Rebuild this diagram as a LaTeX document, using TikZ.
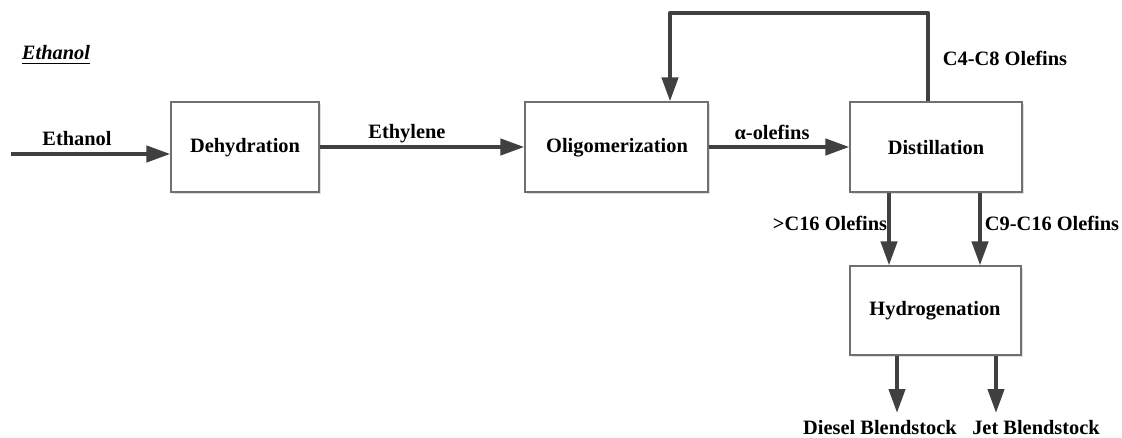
\documentclass[tikz,border=0pt]{standalone}
\usepackage{fontspec}
\setmainfont{Liberation Serif}
\usetikzlibrary{arrows.meta,shadows}
\definecolor{flowgray}{HTML}{404040}
\definecolor{boxgray}{HTML}{707070}
\tikzset{
  unit/.style={draw=boxgray, line width=0.6pt, fill=white, inner sep=0pt,
    minimum height=45pt,
    drop shadow={shadow xshift=1pt, shadow yshift=-1pt, opacity=0.25}},
  flow/.style={draw=flowgray, line width=2.1pt, line join=round,
    -{Triangle[length=12pt, width=8pt]}},
  lbl/.style={inner sep=0pt, font=\fontsize{10.2pt}{12pt}\selectfont\bfseries},
}
\begin{document}
\begin{tikzpicture}[x=0.5pt, y=-0.5pt]
  \useasboundingbox (0,0) rectangle (1122,438);
  \fill[white] (0,0) rectangle (1122,438);

  % process units
  \node[unit, minimum width=74pt] (dehy) at (245,147) {};
  \node[unit, minimum width=91.5pt] (olig) at (616.5,147) {};
  \node[unit, minimum width=86pt] (dist) at (936,147) {};
  \node[unit, minimum width=85.5pt, minimum height=44.5pt] (hydro) at (935.5,310.5) {};

  \node[lbl] at (245,148) {Dehydration};
  \node[lbl] at (617,148) {Oligomerization};
  \node[lbl] at (936,148) {Distillation};
  \node[lbl] at (935,311) {Hydrogenation};

  % title
  \node[lbl, font=\fontsize{10.2pt}{12pt}\selectfont\bfseries\itshape] (title) at (56,55) {\underline{Ethanol}};

  % stream labels
  \node[lbl] (lEth) at (77,139) {Ethanol};
  \node[lbl] (lEthy) at (407,134) {Ethylene};
  \node[lbl] (lAlpha) at (772,132) {α-olefins};
  \node[lbl] (lC4) at (1005,58) {C4-C8 Olefins};
  \node[lbl] (lC16) at (830,223) {>C16 Olefins};
  \node[lbl] (lC9) at (1052,223) {C9-C16 Olefins};
  \node[lbl] (diesel) at (880,428) {Diesel Blendstock};
  \node[lbl] (jet) at (1036,428) {Jet Blendstock};

  % free ends and routing points
  \coordinate (feed) at (11,154);
  \coordinate (loop) at (0,13);
  \coordinate (fbs) at ([xshift=-4pt]dist.north);
  \coordinate (fbe) at ([xshift=26.75pt]olig.north);
  \coordinate (d1) at ([xshift=-23.5pt]dist.south);
  \coordinate (d2) at ([xshift=22pt]dist.south);
  \coordinate (h1) at ([xshift=-19.25pt]hydro.south);
  \coordinate (h2) at ([xshift=30.25pt]hydro.south);
  \coordinate (out) at (0,413);

  % streams
  \draw[flow] (feed) -- (feed -| dehy.west);
  \draw[flow] (dehy.east) -- (olig.west);
  \draw[flow] (olig.east) -- (dist.west);
  \draw[flow] (fbs) -- (fbs |- loop) -| (fbe);
  \draw[flow] (d1) -- (d1 |- hydro.north);
  \draw[flow] (d2) -- (d2 |- hydro.north);
  \draw[flow] (h1) -- (h1 |- out);
  \draw[flow] (h2) -- (h2 |- out);
\end{tikzpicture}
\end{document}
